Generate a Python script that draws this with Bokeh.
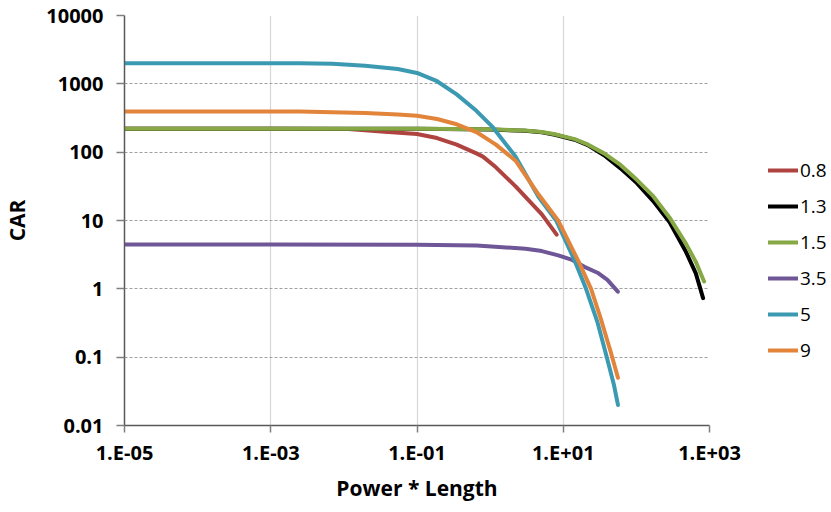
from bokeh.plotting import figure
from bokeh.models import FixedTicker, CustomJSTickFormatter, Legend, LegendItem
from bokeh.layouts import row
from bokeh.embed import file_html
from bokeh.resources import INLINE

# ---- data ----
series_names = ["0.8", "1.3", "1.5", "3.5", "5", "9"]
series_colors = ["#AE4340", "#000000", "#86A845", "#6F5697", "#3B9AB2", "#E2843A"]

x_08 = [1e-5, 1e-3, 0.0116, 0.0325, 0.1, 0.188, 0.349, 0.649, 0.798, 1.2, 2.23, 5.1, 8.13]
y_08 = [220, 220, 219, 200, 184, 161, 129, 96, 86, 60, 31.6, 12.3, 6.2]

x_13 = [1e-5, 1e-3, 0.1, 1.0, 3.0, 5.1, 7.7, 14.3, 21.6, 36.2, 60.7, 101.6, 170, 285, 478, 650, 817]
y_13 = [220, 220, 220, 215, 205, 195, 180, 152, 127, 90, 58, 35.3, 19.2, 9.4, 3.45, 1.68, 0.73]

x_15 = [1e-5, 1e-3, 0.1, 1.0, 3.0, 5.1, 7.7, 14.3, 21.6, 36.2, 60.7, 101.6, 170, 285, 478, 650, 843]
y_15 = [220, 220, 220, 216, 207, 197, 183, 155, 130, 96, 65, 39.4, 22.7, 11, 4.55, 2.48, 1.28]

x_35 = [1e-5, 1e-3, 0.1, 0.65, 3.05, 5.1, 8.55, 12.9, 19.5, 29.4, 40.2, 55.8]
y_35 = [4.45, 4.45, 4.4, 4.3, 3.86, 3.57, 3.09, 2.68, 2.1, 1.72, 1.35, 0.91]

x_5 = [1e-5, 1e-3, 0.0025, 0.0069, 0.0195, 0.0546, 0.1, 0.188, 0.349, 0.649, 1.087, 2.23, 4.6, 8.0, 14.3, 20.5, 29.5, 39.4, 49.4, 56]
y_5 = [2000, 2000, 2000, 1965, 1836, 1648, 1443, 1092, 701, 403, 232, 86, 22, 10, 2.6, 1.0, 0.32, 0.1, 0.039, 0.02]

x_9 = [1e-5, 1e-3, 0.0025, 0.0195, 0.0546, 0.1, 0.188, 0.349, 0.649, 1.2, 2.23, 4.6, 8.5, 16.7, 24, 33, 44.5, 56]
y_9 = [395, 395, 395, 374, 357, 341, 306, 256, 197, 129, 75, 24, 10, 2.35, 1.0, 0.35, 0.12, 0.05]

series_x = [x_08, x_13, x_15, x_35, x_5, x_9]
series_y = [y_08, y_13, y_15, y_35, y_5, y_9]

x_tick_values = [1e-5, 1e-3, 1e-1, 1e1, 1e3]
x_tick_labels = ["1.E-05", "1.E-03", "1.E-01", "1.E+01", "1.E+03"]
y_tick_values = [0.01, 0.1, 1, 10, 100, 1000, 10000]
y_tick_labels = ["0.01", "0.1", "1", "10", "100", "1000", "10000"]

FONT = "Open Sans"

p = figure(
    width=749, height=504,
    min_border_left=114, min_border_right=40, min_border_top=15, min_border_bottom=73,
    x_axis_type="log", y_axis_type="log",
    x_range=(1e-5, 1e3), y_range=(0.01, 1e4),
    output_backend="svg", toolbar_location=None,
)
p.outline_line_color = None
p.background_fill_color = "white"
p.border_fill_color = "white"

fmt_js = """
let best = 0, d = 1e9;
for (let i = 0; i < vals.length; i++) {
  const dd = Math.abs(Math.log10(tick) - Math.log10(vals[i]));
  if (dd < d) { d = dd; best = i; }
}
return labs[best];
"""

for ax, vals, labs in [(p.xaxis[0], x_tick_values, x_tick_labels), (p.yaxis[0], y_tick_values, y_tick_labels)]:
    ax.ticker = FixedTicker(ticks=vals, minor_ticks=[])
    ax.formatter = CustomJSTickFormatter(args=dict(vals=vals, labs=labs), code=fmt_js)
    ax.major_label_text_font = FONT
    ax.major_label_text_font_style = "bold"
    ax.major_label_text_font_size = "20px"
    ax.major_label_text_color = "black"
    ax.axis_label_text_font = FONT
    ax.axis_label_text_font_style = "bold"
    ax.axis_label_text_font_size = "21px"
    ax.axis_label_text_color = "black"
    ax.axis_line_color = "#595959"
    ax.axis_line_width = 1.5
    ax.major_tick_line_color = "#7f7f7f"
    ax.major_tick_line_width = 1.5
    ax.major_tick_in = 0
    ax.minor_tick_line_color = None

p.xaxis.major_tick_out = 7
p.yaxis.major_tick_out = 8
p.xaxis.major_label_standoff = 6
p.yaxis.major_label_standoff = 13
p.xaxis.axis_label = "Power * Length"
p.yaxis.axis_label = "CAR"
p.xaxis.axis_label_standoff = 5
p.yaxis.axis_label_standoff = 12

p.xgrid.ticker = FixedTicker(ticks=x_tick_values, minor_ticks=[])
p.ygrid.ticker = FixedTicker(ticks=y_tick_values, minor_ticks=[])
p.xgrid.grid_line_color = "#b0b0b0"
p.xgrid.grid_line_dash = "1 1"
p.xgrid.grid_line_width = 1.2
p.ygrid.grid_line_color = "#a0a0a0"
p.ygrid.grid_line_dash = "3 2"
p.ygrid.grid_line_width = 1.2

for name, color, xs, ys in zip(series_names, series_colors, series_x, series_y):
    p.line(xs, ys, line_color=color, line_width=4, line_cap="round", line_join="round")

# ---- separate legend panel to the right ----
lg = figure(
    width=80, height=504, min_border=0,
    x_axis_type="log", y_axis_type="log",
    x_range=(1e-5, 1e3), y_range=(0.01, 1e4),
    x_axis_location=None, y_axis_location=None,
    output_backend="svg", toolbar_location=None,
)
lg.outline_line_color = None
lg.grid.visible = False
lg.background_fill_color = "white"
lg.border_fill_color = "white"

items = []
for name, color, xs, ys in zip(series_names, series_colors, series_x, series_y):
    r = lg.line(xs, ys, line_color=color, line_width=4, line_cap="round", visible=False)
    items.append(LegendItem(label=name, renderers=[r]))

legend = Legend(items=items, location=(19, 62))
legend.padding = 0
legend.margin = 0
legend.border_line_color = None
legend.background_fill_alpha = 0
legend.inactive_fill_alpha = 0
legend.glyph_width = 30
legend.glyph_height = 26
legend.label_height = 26
legend.spacing = 10
legend.label_standoff = 2
legend.label_text_font = FONT
legend.label_text_font_size = "19px"
legend.label_text_color = "black"
lg.add_layout(legend, "center")

layout = row(p, lg, spacing=0)
open("out.html", "w").write(file_html(layout, INLINE))
